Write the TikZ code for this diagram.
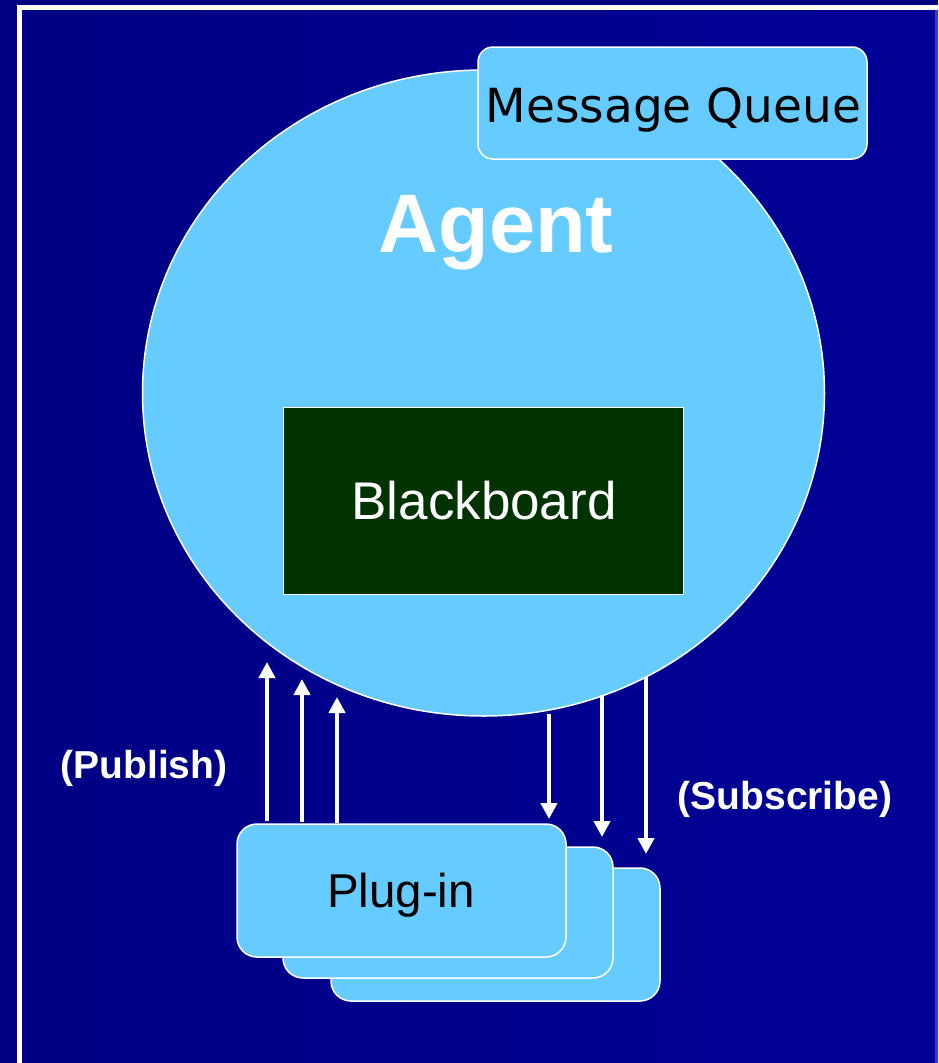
\documentclass[tikz,border=0pt]{standalone}
\usepackage{fontspec}
\usetikzlibrary{shapes.geometric,arrows.meta}
\newfontfamily\arialf{Liberation Sans}
\newfontfamily\dejavuf{DejaVu Sans}
\definecolor{outerbg}{RGB}{0,0,128}
\definecolor{innerL}{RGB}{0,0,132}
\definecolor{innerR}{RGB}{0,0,150}
\definecolor{lightblue}{RGB}{102,204,255}
\definecolor{boardgreen}{RGB}{0,51,0}
\definecolor{edgeblue}{RGB}{60,60,195}
\tikzset{
  box/.style={draw=white, line width=1.5pt, fill=lightblue, rectangle, inner sep=0pt},
  txt/.style={anchor=base, inner sep=0pt, outer sep=0pt},
  arr/.style={draw=white, line width=4.5pt, -{Triangle[width=16pt,length=16pt]}, fill=white}
}
\begin{document}
\begin{tikzpicture}[x=1pt,y=-1pt]
\useasboundingbox (0,0) rectangle (938,1063);
% background and frame
\fill[outerbg] (0,0) rectangle (938,1063);
\shade[left color=innerL, right color=innerR] (19.5,7.5) rectangle (938,1063);
\draw[white, line width=5pt] (19.5,1070) -- (19.5,7.5) -- (945,7.5);
\draw[edgeblue, line width=3pt] (936.5,10) -- (936.5,1063);
% agent
\node[ellipse, draw=white, line width=1.5pt, fill=lightblue, minimum width=682pt, minimum height=646pt, inner sep=0pt] (agent) at (483.5,393) {};
\node[txt, text=white, font=\arialf\bfseries\fontsize{83}{90}\selectfont] (agentlbl) at (496,252) {Agent};
% blackboard
\node[draw=white, line width=1.5pt, fill=boardgreen, rectangle, minimum width=400pt, minimum height=187pt, inner sep=0pt] (board) at (483.5,501) {};
\node[txt, text=white, font=\arialf\fontsize{53}{60}\selectfont] (boardlbl) at (484,519) {Blackboard};
% message queue
\node[box, rounded corners=15pt, minimum width=389pt, minimum height=112pt] (mq) at (672.5,103) {};
\node[txt, text=black, font=\dejavuf\fontsize{47}{52}\selectfont] (mqlbl) at (673.5,122) {Message Queue};
% plug-ins
\node[box, rounded corners=20pt, minimum width=329pt, minimum height=133pt] (plug3) at (495.5,934.5) {};
\node[box, rounded corners=20pt, minimum width=330pt, minimum height=131pt] (plug2) at (448,912.5) {};
\node[box, rounded corners=20pt, minimum width=329pt, minimum height=133pt] (plug1) at (401.5,890.5) {};
\node[txt, text=black, font=\arialf\fontsize{47.5}{54}\selectfont] (pluglbl) at (401,907) {Plug-in};
% labels
\node[txt, text=white, font=\arialf\bfseries\fontsize{39}{44}\selectfont] (publish) at (144,778) {(Publish)};
\node[txt, text=white, font=\arialf\bfseries\fontsize{39}{44}\selectfont] (subscribe) at (785,809) {(Subscribe)};
% arrow end points
\coordinate (u1s) at (267,821); \coordinate (u1e) at (267,662);
\coordinate (u2s) at (302,822); \coordinate (u2e) at (302,679);
\coordinate (u3s) at (337,823); \coordinate (u3e) at (337,697);
\coordinate (d1s) at (549,714); \coordinate (d1e) at (549,819);
\coordinate (d2s) at (602,695); \coordinate (d2e) at (602,837);
\coordinate (d3s) at (646,677); \coordinate (d3e) at (646,854);
\draw[arr] (u1s) -- (u1e);
\draw[arr] (u2s) -- (u2e);
\draw[arr] (u3s) -- (u3e);
\draw[arr] (d1s) -- (d1e);
\draw[arr] (d2s) -- (d2e);
\draw[arr] (d3s) -- (d3e);
\end{tikzpicture}
\end{document}
